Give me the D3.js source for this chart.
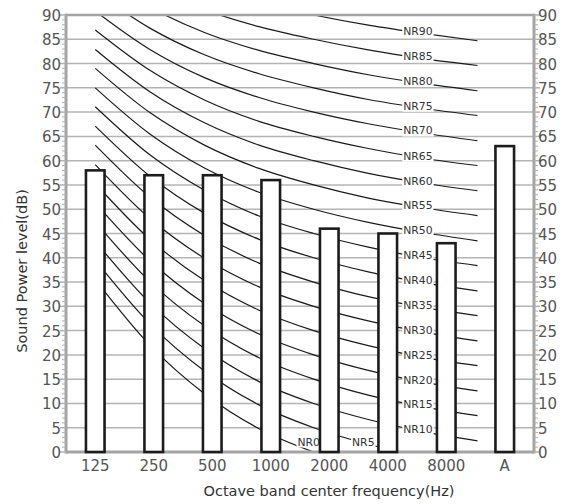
<!DOCTYPE html>
<html><head><meta charset="utf-8">
<script src="https://cdn.jsdelivr.net/npm/d3@7"></script>
<style>body{margin:0;background:#fff}svg{display:block}</style>
</head><body><svg id="c" width="564" height="504"></svg>
<script>
// ---- data ----
const categories = ["125","250","500","1000","2000","4000","8000","A"];
const levels = [58, 57, 57, 56, 46, 45, 43, 63];
const yTickValues = [0,5,10,15,20,25,30,35,40,45,50,55,60,65,70,75,80,85,90];
const nrFreqs = ["63","125","250","500","1000","2000","4000","8000"];
const nrNames = ["NR0","NR5","NR10","NR15","NR20","NR25","NR30","NR35","NR40","NR45",
                 "NR50","NR55","NR60","NR65","NR70","NR75","NR80","NR85","NR90"];
const nrCurves = [
  [35.5, 22.0, 12.0,  4.8,  0, -3.5, -6.1, -8.0],
  [39.5, 26.4, 16.7,  9.7,  5,  1.6, -1.0, -2.9],
  [43.4, 30.7, 21.3, 14.5, 10,  6.7,  4.2,  2.3],
  [47.4, 35.1, 26.0, 19.4, 15, 11.7,  9.3,  7.5],
  [51.3, 39.4, 30.6, 24.3, 20, 16.8, 14.4, 12.6],
  [55.3, 43.8, 35.3, 29.2, 25, 21.9, 19.5, 17.8],
  [59.2, 48.1, 39.9, 34.0, 30, 27.0, 24.7, 22.9],
  [63.2, 52.5, 44.6, 38.9, 35, 32.0, 29.8, 28.1],
  [67.1, 56.8, 49.2, 43.8, 40, 37.1, 34.9, 33.2],
  [71.1, 61.2, 53.9, 48.6, 45, 42.2, 40.0, 38.4],
  [75.0, 65.5, 58.5, 53.5, 50, 47.3, 45.2, 43.5],
  [79.0, 69.9, 63.2, 58.4, 55, 52.3, 50.3, 48.7],
  [82.9, 74.2, 67.8, 63.2, 60, 57.4, 55.4, 53.8],
  [86.9, 78.6, 72.5, 68.1, 65, 62.5, 60.5, 59.0],
  [90.8, 82.9, 77.1, 73.0, 70, 67.6, 65.7, 64.1],
  [94.8, 87.3, 81.8, 77.9, 75, 72.6, 70.8, 69.3],
  [98.7, 91.6, 86.4, 82.7, 80, 77.7, 75.9, 74.4],
  [102.7, 96.0, 91.1, 87.6, 85, 82.8, 81.0, 79.6],
  [106.6, 100.3, 95.7, 92.5, 90, 87.9, 86.2, 84.7]
];
const nrLabelFreq = ["1000","2000","4000","4000","4000","4000","4000","4000","4000","4000",
                     "4000","4000","4000","4000","4000","4000","4000","4000","4000"];
const xTitle = "Octave band center frequency(Hz)";
const yTitle = "Sound Power level(dB)";

// ---- layout ----
const W = 564, H = 504;
const m = {l: 66, r: 30, t: 15, b: 52};
const svg = d3.select("#c");
const FONT = "'DejaVu Sans', Verdana, sans-serif";

const x = d3.scaleBand().domain(categories).range([m.l, W - m.r]).padding(0);
const y = d3.scaleLinear().domain([0, 90]).range([H - m.b, m.t]);
const xNR = d3.scalePoint().domain(nrFreqs)
  .range([x(categories[0]) + x.bandwidth() / 2, x("A") + 2]);

svg.append("defs").append("clipPath").attr("id", "plotclip")
  .append("rect").attr("x", m.l).attr("y", m.t)
  .attr("width", W - m.l - m.r).attr("height", H - m.t - m.b);

// grid
svg.append("g").selectAll("line").data(yTickValues.filter(v => v > 0 && v < 90)).join("line")
  .attr("x1", m.l).attr("x2", W - m.r)
  .attr("y1", d => y(d)).attr("y2", d => y(d))
  .attr("stroke", "#b4b4b4").attr("stroke-width", 1.5);

// NR curves
const line = d3.line().x(d => xNR(d.f)).y(d => y(d.v)).curve(d3.curveMonotoneX);
const gc = svg.append("g").attr("clip-path", "url(#plotclip)");
gc.selectAll("path").data(nrCurves).join("path")
  .attr("d", c => line(c.map((v, i) => ({f: nrFreqs[i], v}))))
  .attr("fill", "none").attr("stroke", "#1a1a1a").attr("stroke-width", 1.2);

// NR labels
const gl = svg.append("g");
nrNames.forEach((name, k) => {
  const f = nrLabelFreq[k];
  const v = nrCurves[k][nrFreqs.indexOf(f)];
  const lx = xNR(f) - 5;
  const ly = Math.min(y(v) - 2, y(0) - 10);
  const g = gl.append("g");
  const t = g.append("text").attr("x", lx).attr("y", ly)
    .attr("text-anchor", "middle").attr("dominant-baseline", "central")
    .attr("font-family", FONT).attr("font-size", 10.8).attr("fill", "#333")
    .text(name);
  const bb = t.node().getBBox();
  g.insert("rect", "text").attr("x", bb.x - 1).attr("y", bb.y + 1)
    .attr("width", bb.width + 2).attr("height", bb.height - 2).attr("fill", "#fff");
});

// axes lines
const axisCol = "#a3a3a3";
const ga = svg.append("g");
ga.append("line").attr("x1", m.l).attr("x2", W - m.r).attr("y1", y(90)).attr("y2", y(90))
  .attr("stroke", axisCol).attr("stroke-width", 2.6);
ga.append("line").attr("x1", m.l).attr("x2", W - m.r).attr("y1", y(0)).attr("y2", y(0))
  .attr("stroke", axisCol).attr("stroke-width", 3);
[m.l, W - m.r].forEach((ax, side) => {
  ga.append("line").attr("x1", ax).attr("x2", ax).attr("y1", y(90) - 1.3).attr("y2", y(0) + 1.5)
    .attr("stroke", axisCol).attr("stroke-width", 3);
  const dir = side === 0 ? -1 : 1;
  ga.append("g").selectAll("line").data(d3.range(0, 91)).join("line")
    .attr("x1", ax).attr("x2", d => ax + dir * (d % 5 === 0 ? 6 : 4))
    .attr("y1", d => y(d)).attr("y2", d => y(d))
    .attr("stroke", "#b0b0b0").attr("stroke-width", d => d % 5 === 0 ? 1.5 : 1);
});

// bars
const bw = x.bandwidth() * 0.318;
svg.append("g").selectAll("rect").data(levels).join("rect")
  .attr("x", (d, i) => x(categories[i]) + x.bandwidth() / 2 - bw / 2)
  .attr("y", d => y(d)).attr("width", bw).attr("height", d => y(0) - y(d))
  .attr("fill", "#fff").attr("stroke", "#1c1c1c").attr("stroke-width", 2.6);

// tick labels
const tl = svg.append("g").attr("font-family", FONT).attr("font-size", 15).attr("fill", "#555");
tl.selectAll("text.l").data(yTickValues).join("text").attr("class", "l")
  .attr("x", m.l - 5).attr("y", d => y(d) + 1).attr("text-anchor", "end")
  .attr("dominant-baseline", "central").text(d => d);
tl.selectAll("text.r").data(yTickValues).join("text").attr("class", "r")
  .attr("x", W - m.r + 4).attr("y", d => y(d) + 1).attr("text-anchor", "start")
  .attr("dominant-baseline", "central").text(d => d);
tl.selectAll("text.x").data(categories).join("text").attr("class", "x")
  .attr("x", d => x(d) + x.bandwidth() / 2).attr("y", 471).attr("text-anchor", "middle")
  .text(d => d);

// titles
svg.append("text").attr("x", 329).attr("y", 496).attr("text-anchor", "middle")
  .attr("font-family", FONT).attr("font-size", 14.5).attr("fill", "#333").text(xTitle);
svg.append("text").attr("transform", "translate(27,271) rotate(-90)").attr("text-anchor", "middle")
  .attr("font-family", FONT).attr("font-size", 14.5).attr("fill", "#333").text(yTitle);
</script>
</body></html>
